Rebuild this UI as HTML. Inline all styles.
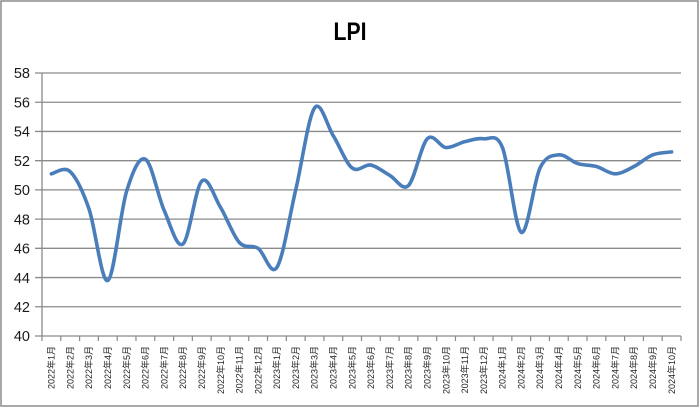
<!DOCTYPE html>
<html><head><meta charset="utf-8"><style>
html,body{margin:0;padding:0;background:#fff;}
svg{display:block;}
</style></head><body>
<svg width="700" height="408" viewBox="0 0 700 408" xmlns="http://www.w3.org/2000/svg">
<rect x="0" y="0" width="700" height="408" fill="#fff"/>
<rect x="1" y="1" width="697" height="405" fill="none" stroke="#8c8c8c" stroke-width="1.5"/>
<text x="350" y="40" text-anchor="middle" font-family="Liberation Sans, sans-serif" font-weight="bold" font-size="25" textLength="33" lengthAdjust="spacingAndGlyphs" fill="#000">LPI</text>
<g stroke="#8a8a8a" stroke-width="1.3">
<line x1="35" y1="73" x2="681" y2="73"/>
<line x1="35" y1="102.22" x2="681" y2="102.22"/>
<line x1="35" y1="131.45" x2="681" y2="131.45"/>
<line x1="35" y1="160.67" x2="681" y2="160.67"/>
<line x1="35" y1="189.89" x2="681" y2="189.89"/>
<line x1="35" y1="219.11" x2="681" y2="219.11"/>
<line x1="35" y1="248.33" x2="681" y2="248.33"/>
<line x1="35" y1="277.56" x2="681" y2="277.56"/>
<line x1="35" y1="306.78" x2="681" y2="306.78"/>
<line x1="35" y1="336" x2="681" y2="336"/>
<line x1="42" y1="73" x2="42" y2="336"/>
</g>
<g stroke="#8a8a8a" stroke-width="1.2">
<line x1="42" y1="336" x2="42" y2="341"/><line x1="60.79" y1="336" x2="60.79" y2="341"/><line x1="79.59" y1="336" x2="79.59" y2="341"/><line x1="98.38" y1="336" x2="98.38" y2="341"/><line x1="117.18" y1="336" x2="117.18" y2="341"/><line x1="135.97" y1="336" x2="135.97" y2="341"/><line x1="154.76" y1="336" x2="154.76" y2="341"/><line x1="173.56" y1="336" x2="173.56" y2="341"/><line x1="192.35" y1="336" x2="192.35" y2="341"/><line x1="211.15" y1="336" x2="211.15" y2="341"/><line x1="229.94" y1="336" x2="229.94" y2="341"/><line x1="248.73" y1="336" x2="248.73" y2="341"/><line x1="267.53" y1="336" x2="267.53" y2="341"/><line x1="286.32" y1="336" x2="286.32" y2="341"/><line x1="305.12" y1="336" x2="305.12" y2="341"/><line x1="323.91" y1="336" x2="323.91" y2="341"/><line x1="342.70" y1="336" x2="342.70" y2="341"/><line x1="361.50" y1="336" x2="361.50" y2="341"/><line x1="380.29" y1="336" x2="380.29" y2="341"/><line x1="399.09" y1="336" x2="399.09" y2="341"/><line x1="417.88" y1="336" x2="417.88" y2="341"/><line x1="436.67" y1="336" x2="436.67" y2="341"/><line x1="455.47" y1="336" x2="455.47" y2="341"/><line x1="474.26" y1="336" x2="474.26" y2="341"/><line x1="493.06" y1="336" x2="493.06" y2="341"/><line x1="511.85" y1="336" x2="511.85" y2="341"/><line x1="530.64" y1="336" x2="530.64" y2="341"/><line x1="549.44" y1="336" x2="549.44" y2="341"/><line x1="568.23" y1="336" x2="568.23" y2="341"/><line x1="587.03" y1="336" x2="587.03" y2="341"/><line x1="605.82" y1="336" x2="605.82" y2="341"/><line x1="624.61" y1="336" x2="624.61" y2="341"/><line x1="643.41" y1="336" x2="643.41" y2="341"/><line x1="662.20" y1="336" x2="662.20" y2="341"/><line x1="681" y1="336" x2="681" y2="341"/>
</g>
<g font-family="Liberation Sans, sans-serif" font-size="14.5" fill="#1a1a1a" text-anchor="end">
<text x="30" y="78.2">58</text>
<text x="30" y="107.4">56</text>
<text x="30" y="136.6">54</text>
<text x="30" y="165.9">52</text>
<text x="30" y="195.1">50</text>
<text x="30" y="224.3">48</text>
<text x="30" y="253.5">46</text>
<text x="30" y="282.8">44</text>
<text x="30" y="312">42</text>
<text x="30" y="341.2">40</text>
</g>
<path fill="none" stroke="#4a7ebb" stroke-width="3.6" stroke-linejoin="round" stroke-linecap="round" d="M51.40,173.82 C54.53,173.46 63.92,165.79 70.19,171.63 C76.46,177.47 82.72,190.74 88.99,208.88 C95.26,227.02 101.51,283.40 107.78,280.48 C114.05,277.56 120.31,211.56 126.58,191.35 C132.85,171.14 139.10,156.04 145.37,159.21 C151.64,162.38 157.89,196.23 164.16,210.35 C170.43,224.47 176.69,248.82 182.96,243.95 C189.23,239.08 195.48,187.21 201.75,181.12 C208.02,175.03 214.28,197.19 220.55,207.42 C226.82,217.65 233.07,235.67 239.34,242.49 C245.61,249.31 251.86,244.19 258.13,248.33 C264.40,252.47 270.66,277.07 276.93,267.33 C283.20,257.59 289.45,216.43 295.72,189.89 C301.99,163.35 308.25,117.08 314.52,108.07 C320.79,99.06 327.04,125.85 333.31,135.83 C339.58,145.81 345.83,163.10 352.10,167.97 C358.37,172.84 364.63,163.83 370.90,165.05 C377.17,166.27 383.42,171.87 389.69,175.28 C395.96,178.69 402.22,191.60 408.49,185.51 C414.76,179.42 421.01,145.08 427.28,138.75 C433.55,132.42 439.80,147.03 446.07,147.52 C452.34,148.01 458.60,143.13 464.87,141.67 C471.14,140.21 477.39,137.78 483.66,138.75 C489.93,139.73 496.19,131.94 502.46,147.52 C508.73,163.11 514.98,228.85 521.25,232.26 C527.52,235.67 533.77,180.88 540.04,167.97 C546.31,155.06 552.57,155.55 558.84,154.82 C565.11,154.09 571.36,161.64 577.63,163.59 C583.90,165.54 590.16,164.81 596.43,166.51 C602.70,168.22 608.95,173.82 615.22,173.82 C621.49,173.82 627.74,169.68 634.01,166.51 C640.28,163.34 646.54,157.26 652.81,154.82 C659.08,152.39 668.47,152.39 671.60,151.90"/>
<g font-family="Liberation Sans, Noto Sans CJK SC, sans-serif" font-size="9" fill="#222" text-anchor="end">
<text transform="translate(54.6,346) rotate(-90)">2022年1月</text>
<text transform="translate(73.4,346) rotate(-90)">2022年2月</text>
<text transform="translate(92.2,346) rotate(-90)">2022年3月</text>
<text transform="translate(111.0,346) rotate(-90)">2022年4月</text>
<text transform="translate(129.8,346) rotate(-90)">2022年5月</text>
<text transform="translate(148.6,346) rotate(-90)">2022年6月</text>
<text transform="translate(167.4,346) rotate(-90)">2022年7月</text>
<text transform="translate(186.2,346) rotate(-90)">2022年8月</text>
<text transform="translate(205.0,346) rotate(-90)">2022年9月</text>
<text transform="translate(223.8,346) rotate(-90)">2022年10月</text>
<text transform="translate(242.5,346) rotate(-90)">2022年11月</text>
<text transform="translate(261.3,346) rotate(-90)">2022年12月</text>
<text transform="translate(280.1,346) rotate(-90)">2023年1月</text>
<text transform="translate(298.9,346) rotate(-90)">2023年2月</text>
<text transform="translate(317.7,346) rotate(-90)">2023年3月</text>
<text transform="translate(336.5,346) rotate(-90)">2023年4月</text>
<text transform="translate(355.3,346) rotate(-90)">2023年5月</text>
<text transform="translate(374.1,346) rotate(-90)">2023年6月</text>
<text transform="translate(392.9,346) rotate(-90)">2023年7月</text>
<text transform="translate(411.7,346) rotate(-90)">2023年8月</text>
<text transform="translate(430.5,346) rotate(-90)">2023年9月</text>
<text transform="translate(449.3,346) rotate(-90)">2023年10月</text>
<text transform="translate(468.1,346) rotate(-90)">2023年11月</text>
<text transform="translate(486.9,346) rotate(-90)">2023年12月</text>
<text transform="translate(505.7,346) rotate(-90)">2024年1月</text>
<text transform="translate(524.5,346) rotate(-90)">2024年2月</text>
<text transform="translate(543.2,346) rotate(-90)">2024年3月</text>
<text transform="translate(562.0,346) rotate(-90)">2024年4月</text>
<text transform="translate(580.8,346) rotate(-90)">2024年5月</text>
<text transform="translate(599.6,346) rotate(-90)">2024年6月</text>
<text transform="translate(618.4,346) rotate(-90)">2024年7月</text>
<text transform="translate(637.2,346) rotate(-90)">2024年8月</text>
<text transform="translate(656.0,346) rotate(-90)">2024年9月</text>
<text transform="translate(674.8,346) rotate(-90)">2024年10月</text>
</g>
</svg>
</body></html>
